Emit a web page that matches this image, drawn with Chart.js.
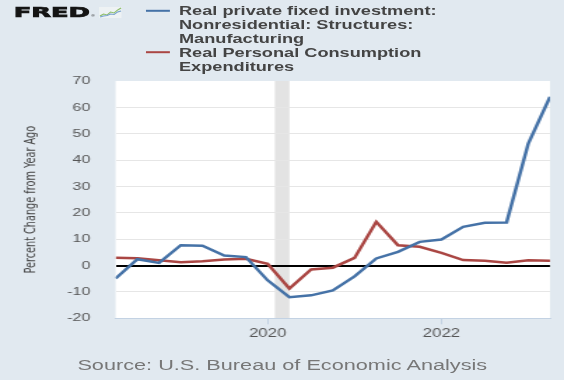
<!DOCTYPE html>
<html><head><meta charset="utf-8">
<script src="https://cdn.jsdelivr.net/npm/chart.js@4.4.1/dist/chart.umd.min.js"></script>
<style>
html,body{margin:0;padding:0;background:#e1e9f0;overflow:hidden;width:564px;height:380px}
#wrap{position:absolute;left:0;top:0;width:403px;height:380px;transform:scaleX(1.3995);transform-origin:0 0;background:#e1e9f0}
#c{position:absolute;left:0;top:0}
#ov{position:absolute;left:0;top:0}
</style></head>
<body>
<div id="wrap">
<canvas id="c" width="403" height="380"></canvas>
<svg id="ov" width="403" height="380" viewBox="0 0 403 380" xmlns="http://www.w3.org/2000/svg">
  <text x="9.8" y="17.3" font-family="DejaVu Sans, Liberation Sans, Arial, sans-serif" font-weight="bold" font-size="13.8" fill="#141414" stroke="#141414" stroke-width="0.7" textLength="54.5" lengthAdjust="spacingAndGlyphs">FRED</text>
  <text x="65.2" y="17.4" font-family="Liberation Sans, Arial, sans-serif" font-size="3.5" fill="#141414">®</text>
  <g>
    <rect x="70.8" y="7" width="16" height="11" fill="#eef2f4"/>
    <polyline points="71.5,16 74,14 76.5,15 79,12 81.5,13 84,10 86.5,8" fill="none" stroke="#8fbf6c" stroke-width="1"/>
    <polyline points="71.5,17 74,16 76.5,15.5 79,14 81.5,14.5 84,12 86.5,11" fill="none" stroke="#7aa3cf" stroke-width="1"/>
  </g>
  <line x1="104.3" y1="10.8" x2="121.4" y2="10.8" stroke="#4572a7" stroke-width="2"/>
  <line x1="104.3" y1="52.2" x2="121.4" y2="52.2" stroke="#aa4643" stroke-width="2"/>
  <g font-family="Liberation Sans, Arial, sans-serif" font-weight="bold" font-size="13" fill="#444">
    <text x="127.9" y="15.4">Real private fixed investment:</text>
    <text x="127.9" y="29.2">Nonresidential: Structures:</text>
    <text x="127.9" y="43.0">Manufacturing</text>
    <text x="127.9" y="56.8">Real Personal Consumption</text>
    <text x="127.9" y="70.6">Expenditures</text>
  </g>
  <text x="201.7" y="370.2" text-anchor="middle" font-family="Liberation Sans, Arial, sans-serif" font-size="15.5" fill="#777">Source: U.S. Bureau of Economic Analysis</text>
</svg>
</div>
<script>
// Quarterly observations (percent change from year ago)
const quarters = ['2018Q2','2018Q3','2018Q4','2019Q1','2019Q2','2019Q3','2019Q4',
  '2020Q1','2020Q2','2020Q3','2020Q4','2021Q1','2021Q2','2021Q3','2021Q4',
  '2022Q1','2022Q2','2022Q3','2022Q4','2023Q1','2023Q2'];
const manufacturingStructures = [-4.9, 2.4, 1.0, 7.7, 7.5, 3.8, 3.2,
  -5.6, -12.0, -11.3, -9.4, -4.1, 2.7, 5.2, 9.0,
  9.9, 14.7, 16.2, 16.3, 46.3, 64.0];
const realPCE = [3.0, 2.8, 2.0, 1.3, 1.6, 2.3, 2.6,
  0.7, -8.7, -1.5, -0.8, 2.9, 16.6, 7.7, 7.1,
  4.8, 2.1, 1.8, 1.1, 2.0, 1.8];
const seriesNames = ['Real private fixed investment: Nonresidential: Structures: Manufacturing',
  'Real Personal Consumption Expenditures'];
const xTickYears = [2020, 2022];
const yTicks = [-20, -10, 0, 10, 20, 30, 40, 50, 60, 70];
// Recession (NBER): Feb 2020 - Apr 2020, as [startYear, startMonth, endYear, endMonth]
const recessions = [[2020, 2, 2020, 4]];

const qToYear = q => parseInt(q.slice(0,4)) + (parseInt(q.slice(5)) - 1) / 4;
const toPoints = arr => arr.map((v, i) => ({x: qToYear(quarters[i]), y: v}));

const bgPlugin = {
  id: 'bg',
  beforeDraw(chart) {
    const {ctx, chartArea: a, scales: {x}} = chart;
    ctx.save();
    ctx.fillStyle = '#ffffff';
    ctx.fillRect(a.left, a.top, a.right - a.left, a.bottom - a.top);
    ctx.fillStyle = '#e3e3e3';
    recessions.forEach(r => {
      const x0 = x.getPixelForValue(r[0] + (r[1] - 1) / 12);
      const x1 = x.getPixelForValue(r[2] + (r[3] - 1) / 12);
      ctx.fillRect(x0, a.top, x1 - x0, a.bottom - a.top);
    });
    ctx.restore();
  }
};

const fontMain = '"Liberation Sans", Arial, sans-serif';

new Chart(document.getElementById('c'), {
  type: 'line',
  data: {
    datasets: [
      {label: seriesNames[0], data: toPoints(manufacturingStructures), borderColor: '#4572a7', borderWidth: 2.5, pointRadius: 0, tension: 0},
      {label: seriesNames[1], data: toPoints(realPCE), borderColor: '#aa4643', borderWidth: 2.5, pointRadius: 0, tension: 0}
    ]
  },
  options: {
    responsive: false,
    animation: false,
    devicePixelRatio: 1,
    layout: {padding: {top: 81, right: 10, bottom: 0, left: 0}},
    plugins: {legend: {display: false}, tooltip: {enabled: false}},
    scales: {
      x: {
        type: 'linear',
        min: qToYear(quarters[0]),
        max: qToYear(quarters[quarters.length - 1]),
        afterBuildTicks: s => { s.ticks = xTickYears.map(v => ({value: v})); },
        ticks: {padding: 2, color: '#555', font: {family: fontMain, size: 12}, maxRotation: 0, autoSkip: false, callback: v => String(v)},
        grid: {drawOnChartArea: false, tickLength: 6, color: '#c3d2e3'},
        border: {color: '#c3d2e3'},
        afterFit: s => { s.height = 61.7; }
      },
      y: {
        min: yTicks[0],
        max: yTicks[yTicks.length - 1],
        afterBuildTicks: s => { s.ticks = yTicks.map(v => ({value: v})); },
        ticks: {padding: 18, color: '#555', font: {family: fontMain, size: 11.5}},
        grid: {
          drawTicks: false,
          color: c => c.tick.value === 0 ? '#000000' : ((c.tick.value === yTicks[0] || c.tick.value === yTicks[yTicks.length-1]) ? 'rgba(0,0,0,0)' : '#e6e6e6'),
          lineWidth: c => c.tick.value === 0 ? 2 : 1
        },
        border: {display: false},
        title: {display: true, text: 'Percent Change from Year Ago', color: '#444',
          font: {family: '"Liberation Sans Narrow", "DejaVu Sans Condensed", "Arial Narrow", sans-serif', size: 10.8},
          padding: {top: 16, bottom: 0}},
        afterFit: s => { s.width = 82.6; }
      }
    }
  },
  plugins: [bgPlugin]
});
</script>
</body></html>
